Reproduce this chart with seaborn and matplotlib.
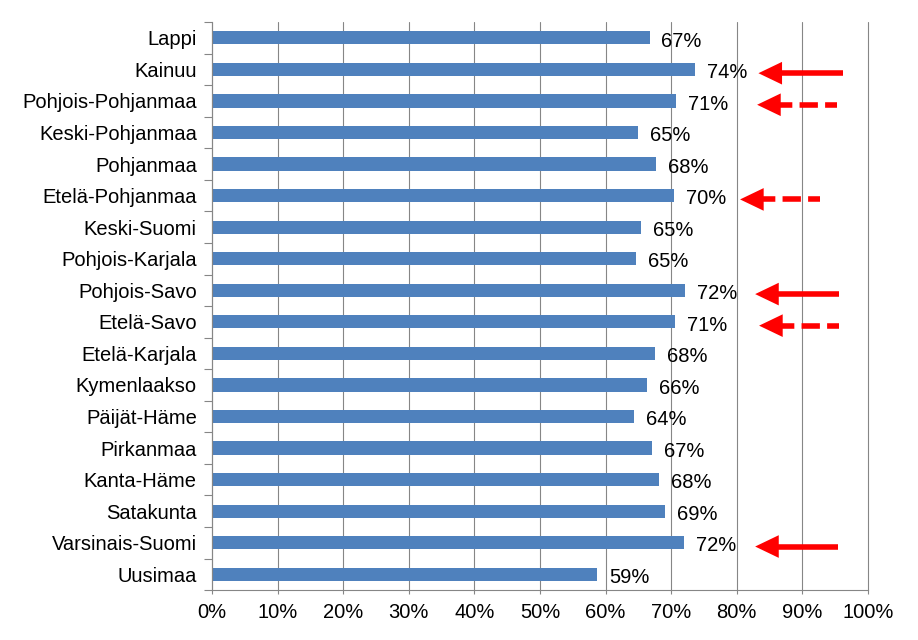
import pandas as pd
import matplotlib
matplotlib.use("Agg")
import matplotlib.pyplot as plt
import seaborn as sns
from matplotlib.ticker import FuncFormatter

# === data ===
regions = ["Lappi", "Kainuu", "Pohjois-Pohjanmaa", "Keski-Pohjanmaa", "Pohjanmaa",
           "Etelä-Pohjanmaa", "Keski-Suomi", "Pohjois-Karjala", "Pohjois-Savo",
           "Etelä-Savo", "Etelä-Karjala", "Kymenlaakso", "Päijät-Häme", "Pirkanmaa",
           "Kanta-Häme", "Satakunta", "Varsinais-Suomi", "Uusimaa"]
shares = [66.7, 73.7, 70.8, 65.0, 67.7, 70.4, 65.4, 64.7, 72.1,
          70.6, 67.6, 66.3, 64.4, 67.1, 68.1, 69.1, 72.0, 58.7]
xticks = [0, 10, 20, 30, 40, 50, 60, 70, 80, 90, 100]

# red arrows: region, tail x, tip x, dashed?
arrow_regions = ["Kainuu", "Pohjois-Pohjanmaa", "Etelä-Pohjanmaa", "Pohjois-Savo",
                 "Etelä-Savo", "Varsinais-Suomi"]
arrow_tail = [96.2, 95.3, 92.7, 95.6, 95.6, 95.4]
arrow_tip = [83.3, 83.1, 80.5, 82.8, 83.4, 82.8]
arrow_dashed = [False, True, True, False, True, False]

df = pd.DataFrame({"region": regions, "share": shares})

sns.set_style("white")
plt.rcParams["font.family"] = ["Liberation Sans", "DejaVu Sans"]
plt.rcParams["text.color"] = "black"
plt.rcParams["xtick.color"] = "black"
plt.rcParams["ytick.color"] = "black"

fig = plt.figure(figsize=(9.18, 6.4), dpi=100)
ax = fig.add_axes([0.231, 0.078, 0.7145, 0.8875])

sns.barplot(data=df, x="share", y="region", orient="h", color="#4F81BD",
            saturation=1, width=0.42, linewidth=0, ax=ax)

for i, v in enumerate(shares):
    ax.text(v + 1.8, i + 0.1, f"{round(v):d}%", va="center", ha="left", fontsize=14.5)

# arrows
head_len = 2.9
for reg, tail, tip, dashed in zip(arrow_regions, arrow_tail, arrow_tip, arrow_dashed):
    y = regions.index(reg) + 0.12
    ax.plot([tip + head_len - 0.3, tail], [y, y], color="#FF0000", lw=4,
            linestyle=(0, (3.3, 1.3)) if dashed else "-", solid_capstyle="butt",
            dash_capstyle="butt")
    ax.annotate("", xy=(tip, y), xytext=(tip + head_len, y),
                arrowprops=dict(arrowstyle="-|>,head_length=1.0,head_width=0.48",
                                color="#FF0000", lw=0, mutation_scale=17,
                                shrinkA=0, shrinkB=0))

ax.set_xlim(0, 100)
ax.set_ylim(len(regions) - 0.5, -0.5)
ax.set_xticks(xticks)
ax.xaxis.set_major_formatter(FuncFormatter(lambda v, p: f"{v:.0f}%"))
ax.set_yticks([i + 0.5 for i in range(-1, len(regions))], minor=True)
ax.tick_params(axis="y", which="major", length=0, labelsize=14.5, pad=11)
ax.tick_params(axis="y", which="minor", length=6, color="#868686", width=0.8, left=True)
ax.tick_params(axis="x", length=3, color="#868686", labelsize=14.5, pad=6, bottom=True)
ax.set_xlabel("")
ax.set_ylabel("")

ax.grid(axis="x", color="#868686", lw=0.8)
ax.grid(axis="y", visible=False)
ax.set_axisbelow(True)
for gl in ax.get_xgridlines():
    gl.set_clip_on(False)
for s in ["top", "right"]:
    ax.spines[s].set_visible(False)
for s in ["left", "bottom"]:
    ax.spines[s].set_color("#868686")
    ax.spines[s].set_linewidth(0.8)

fig.savefig("out.png", dpi=100)
